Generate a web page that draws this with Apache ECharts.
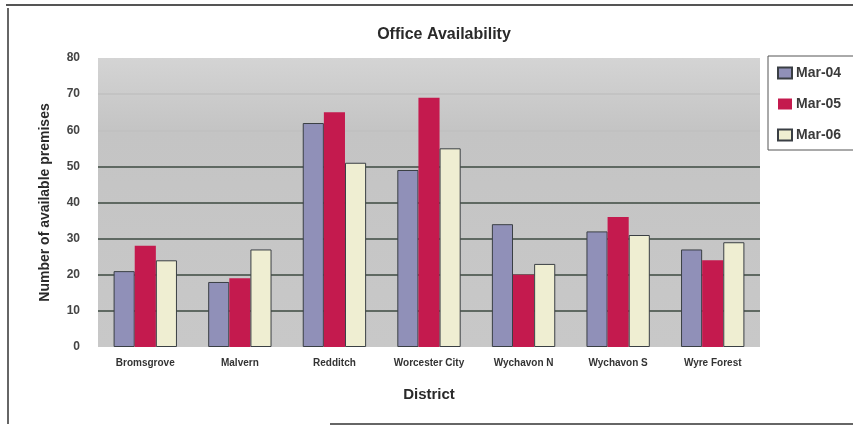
<!DOCTYPE html>
<html>
<head>
<meta charset="utf-8">
<style>
  html, body { margin: 0; padding: 0; background: #ffffff; }
  #chart { width: 853px; height: 428px; }
</style>
<script src="https://cdn.jsdelivr.net/npm/echarts@6/dist/echarts.min.js"></script>
</head>
<body>
<div id="chart"></div>
<script>
// Office availability by district, three March snapshots
const districts = ['Bromsgrove', 'Malvern', 'Redditch', 'Worcester City', 'Wychavon N', 'Wychavon S', 'Wyre Forest'];
const seriesNames = ['Mar-04', 'Mar-05', 'Mar-06'];
const mar04 = [21, 18, 62, 49, 34, 32, 27];
const mar05 = [28, 19, 65, 69, 20, 36, 24];
const mar06 = [24, 27, 51, 55, 23, 31, 29];
const yTicks = [0, 10, 20, 30, 40, 50, 60, 70, 80];

const font = '"Liberation Sans", Arial, sans-serif';
const chart = echarts.init(document.getElementById('chart'), null, { renderer: 'canvas' });

function barSeries(name, data, color, border) {
  return {
    name: name,
    type: 'bar',
    data: data,
    barGap: '0%',
    barCategoryGap: '33%',
    itemStyle: { color: color, borderColor: border, borderWidth: border ? 1 : 0 }
  };
}

chart.setOption({
  animation: false,
  backgroundColor: '#ffffff',
  title: {
    text: 'Office Availability',
    left: 439, top: 22, textAlign: 'center',
    textStyle: { fontFamily: font, fontWeight: 'bold', fontSize: 16, color: '#2a2a2a' }
  },
  legend: {
    orient: 'vertical',
    left: 768, top: 56,
    padding: [10, 14, 8, 9],
    itemGap: 17,
    itemWidth: 14, itemHeight: 11,
    icon: 'rect',
    backgroundColor: '#ffffff',
    borderColor: '#555555', borderWidth: 1,
    data: seriesNames,
    textStyle: { fontFamily: font, fontWeight: 'bold', fontSize: 14, color: '#3a3a3a', padding: [0, 0, 0, -1] }
  },
  grid: {
    left: 98, right: 93, top: 58, bottom: 81,
    show: true,
    borderWidth: 0,
    backgroundColor: {
      type: 'linear', x: 0, y: 0, x2: 0, y2: 1,
      colorStops: [
        { offset: 0, color: '#d4d4d4' },
        { offset: 0.25, color: '#c4c4c4' },
        { offset: 1, color: '#c8c8c8' }
      ]
    }
  },
  xAxis: {
    type: 'category',
    data: districts,
    name: 'District',
    nameLocation: 'middle',
    nameGap: 40,
    nameTextStyle: { fontFamily: font, fontWeight: 'bold', fontSize: 15, color: '#2a2a2a' },
    axisLine: { show: false },
    axisTick: { show: false },
    axisLabel: { fontFamily: font, fontWeight: 'bold', fontSize: 10, color: '#333333', margin: 11, interval: 0 }
  },
  yAxis: {
    type: 'value',
    min: yTicks[0], max: yTicks[yTicks.length - 1], interval: 10,
    name: 'Number of available premises',
    nameLocation: 'middle',
    nameRotate: 90,
    nameGap: 46,
    nameTextStyle: { fontFamily: font, fontWeight: 'bold', fontSize: 14, color: '#2a2a2a' },
    axisLine: { show: false },
    axisTick: { show: false },
    axisLabel: { fontFamily: font, fontWeight: 'bold', fontSize: 12, color: '#444444', margin: 18 },
    splitLine: {
      show: true,
      lineStyle: {
        width: 1.5,
        color: ['rgba(0,0,0,0)', '#3c4a40', '#3c4a40', '#3c4a40', '#3c4a40', '#3c4a40', '#c0c0c0', '#c0c0c0', 'rgba(0,0,0,0)']
      }
    }
  },
  series: [
    barSeries(seriesNames[0], mar04, '#9090b8', '#3a3f44'),
    barSeries(seriesNames[1], mar05, '#c41a4e', null),
    barSeries(seriesNames[2], mar06, '#efeed2', '#3a3f44')
  ],
  graphic: [
    // outer frame of the chart sheet
    { type: 'line', shape: { x1: 6, y1: 5, x2: 853, y2: 5 }, style: { stroke: '#555555', lineWidth: 2 } },
    { type: 'line', shape: { x1: 8, y1: 8, x2: 8, y2: 424 }, style: { stroke: '#666666', lineWidth: 2 } },
    { type: 'line', shape: { x1: 330, y1: 424, x2: 853, y2: 424 }, style: { stroke: '#666666', lineWidth: 2 } }
  ]
});
</script>
</body>
</html>
